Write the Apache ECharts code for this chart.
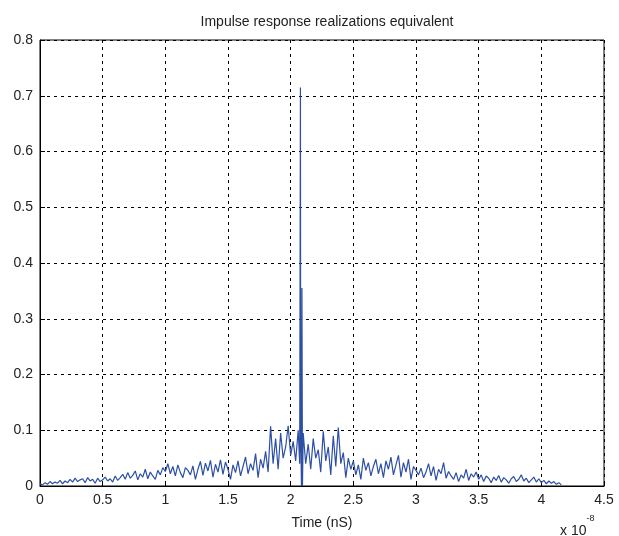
<!DOCTYPE html>
<html>
  <head>
    <meta charset="UTF-8">
    <title>Impulse response</title>
    <script src="https://cdn.jsdelivr.net/npm/echarts@6/dist/echarts.min.js"></script>
    <style type="text/css">
      * {margin: 0; padding: 0;}
      body {background: #fff;}
    </style>
  </head>
  <body>
    <div id="chart" style="width:619px;height:536px"></div>
    <script type="text/javascript">
      // time in units of 1e-8 s, sampled every dt
      var dt = 0.02;
      var amp0 = [0.004,0.002,0.006,0.003,0.008,0.004,0.007,0.005,0.010,0.004,0.009,0.006,0.012,0.007,0.014,0.008,0.011,0.013,0.006,0.015,0.009,0.012,0.005,0.014,0.008];
      var amp1 = [0.011,0.016,0.009,0.013,0.007,0.018,0.010,0.015,0.021,0.012,0.024,0.014,0.019,0.027,0.011,0.022,0.016,0.030,0.013,0.025,0.018,0.012,0.028,0.020,0.033];
      var amp2 = [0.026,0.040,0.022,0.035,0.018,0.038,0.024,0.015,0.033,0.028,0.020,0.036,0.012,0.030,0.044,0.019,0.041,0.027,0.046,0.016,0.039,0.025,0.047,0.021,0.043];
      var amp3 = [0.030,0.012,0.038,0.024,0.045,0.018,0.035,0.052,0.022,0.040,0.028,0.058,0.015,0.048,0.032,0.062,0.025,0.107,0.040,0.085,0.030,0.095,0.050,0.070,0.108];
      var amp4 = [0.055,0.080,0.045,0.100,0.060,0.095,0.040,0.075,0.030,0.085,0.050,0.065,0.025,0.098,0.045,0.070,0.020,0.090,0.035,0.105,0.040,0.060,0.015,0.050,0.030];
      var amp5 = [0.045,0.020,0.038,0.012,0.050,0.028,0.042,0.018,0.035,0.048,0.022,0.040,0.015,0.045,0.030,0.052,0.020,0.038,0.055,0.016,0.042,0.025,0.048,0.012,0.035];
      var amp6 = [0.028,0.020,0.032,0.015,0.025,0.040,0.018,0.035,0.010,0.030,0.022,0.042,0.014,0.026,0.018,0.012,0.024,0.008,0.020,0.014,0.030,0.010,0.022,0.016,0.025];
      var amp7 = [0.012,0.020,0.008,0.018,0.014,0.006,0.016,0.010,0.019,0.007,0.015,0.011,0.005,0.013,0.017,0.008,0.012,0.020,0.009,0.014,0.006,0.011,0.016,0.007,0.013];
      var amp8 = [0.006,0.010,0.004,0.009,0.005,0.008,0.003,0.006,0.002];

      // main peak around t = 2.08
      var spikeT = [2.072, 2.078, 2.082, 2.086, 2.090, 2.094];
      var spikeV = [0.040, 0.715, 0.070, 0.000, 0.355, 0.000];

      var xTicks = [0, 0.5, 1, 1.5, 2, 2.5, 3, 3.5, 4, 4.5];

      var amps = [].concat(amp0, amp1, amp2, amp3, amp4, amp5, amp6, amp7, amp8);
      var data = [];
      for (var i = 0; i < amps.length; i++) {
        data.push([+(i * dt).toFixed(3), amps[i]]);
      }
      for (var j = 0; j < spikeT.length; j++) {
        data.push([spikeT[j], spikeV[j]]);
      }
      data.sort(function (a, b) { return a[0] - b[0]; });

      var chart = echarts.init(document.getElementById('chart'));
      var font = 'Liberation Sans, Arial, sans-serif';
      var dashed = {show: true, lineStyle: {color: '#000', type: [3, 4], width: 1}};

      var option = {
        animation: false,
        backgroundColor: '#fff',
        title: {
          text: 'Impulse response realizations equivalent',
          left: 322, top: 10, textAlign: 'center',
          textStyle: {fontFamily: font, fontSize: 14, fontWeight: 'normal', color: '#222'}
        },
        grid: {
          left: 40, right: 15, top: 40, bottom: 50,
          show: true, borderColor: '#000', borderWidth: 1
        },
        xAxis: {
          type: 'value', min: 0, max: 4.5, interval: 0.5,
          name: 'Time (nS)', nameLocation: 'middle', nameGap: 30,
          nameTextStyle: {fontFamily: font, fontSize: 14, color: '#222'},
          axisLine: {show: true, lineStyle: {color: '#000'}},
          axisTick: {show: true, inside: true, length: 5, lineStyle: {color: '#000'}},
          axisLabel: {fontFamily: font, fontSize: 14, color: '#222', margin: 7,
            formatter: function (v) { return xTicks.indexOf(v) >= 0 ? String(v) : ''; }},
          splitLine: dashed
        },
        yAxis: {
          type: 'value', min: 0, max: 0.8, interval: 0.1,
          axisLine: {show: true, lineStyle: {color: '#000'}},
          axisTick: {show: true, inside: true, length: 5, lineStyle: {color: '#000'}},
          axisLabel: {fontFamily: font, fontSize: 14, color: '#222', margin: 7,
            formatter: function (v) { return v === 0 ? '0' : v.toFixed(1); }},
          splitLine: dashed
        },
        graphic: [{
          type: 'text', left: 560, top: 514,
          style: {
            text: '{a|x 10}{b|-8}',
            rich: {
              a: {fontFamily: font, fontSize: 14, fill: '#222', padding: [10, 0, 0, 0]},
              b: {fontFamily: font, fontSize: 9, fill: '#222', verticalAlign: 'top'}
            }
          }
        }],
        series: [{
          type: 'line', data: data, showSymbol: false, symbol: 'none',
          lineStyle: {color: '#2d4fa6', width: 1.2}
        }]
      };

      chart.setOption(option);
    </script>
  </body>
</html>
